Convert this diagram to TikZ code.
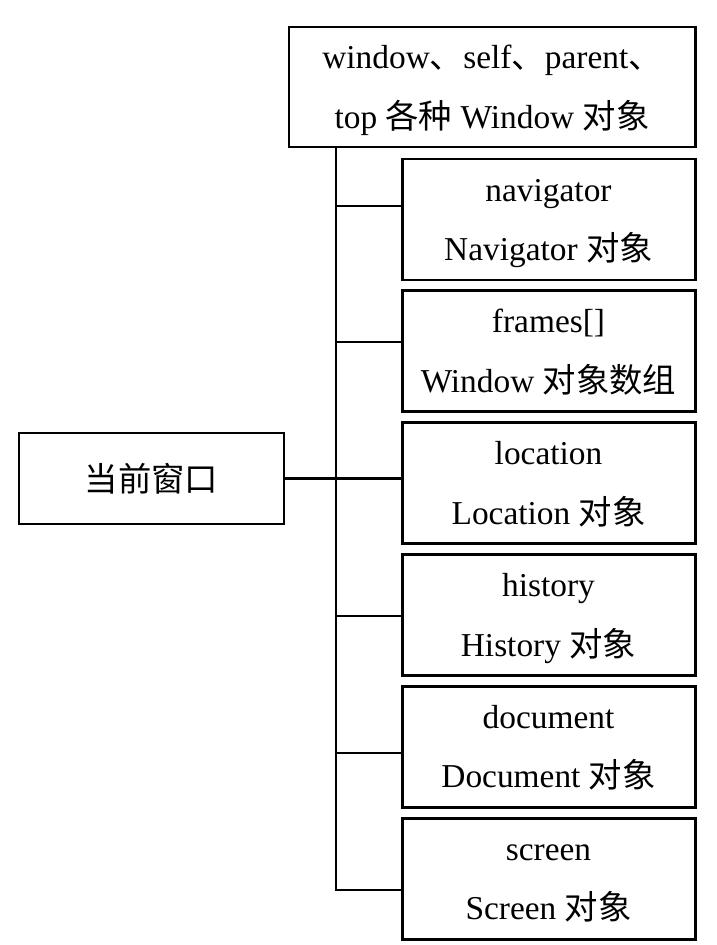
\documentclass[tikz,border=0pt]{standalone}
\usepackage{fontspec}
\setmainfont{Liberation Serif}
\newfontfamily\cjk{Noto Sans CJK SC}
\usetikzlibrary{positioning}

% two lines of a box, with struts so the baselines sit alike
\newcommand{\objtext}[2]{\rule{0pt}{18pt}#1\\ #2\rule[-5pt]{0pt}{5pt}}

\begin{document}
\begin{tikzpicture}[x=0.02cm,y=-0.02cm,
    every node/.style={font=\fontsize{19}{34}\selectfont,align=center,inner sep=0pt},
    objbox/.style={draw,line width=1.7pt,minimum width=293*0.02cm,minimum height=121*0.02cm},
    link/.style={line width=1.15pt}]

    \useasboundingbox (0,0) rectangle (716,945);

    % window objects on top
    \node[draw,line width=1.7pt,minimum width=406*0.02cm,minimum height=120*0.02cm]
        (win) at (492,87) {\objtext{window{\cjk 、}self{\cjk 、}parent{\cjk 、}}{top {\cjk 各种} Window {\cjk 对象}}};

    % current window on the left
    \node[draw,line width=1.7pt,minimum width=265*0.02cm,minimum height=91*0.02cm]
        (cur) at (151.5,478.5) {\cjk 当前窗口};

    % child objects
    \node[objbox] (nav) at (548.5,219.5) {\objtext{navigator}{Navigator {\cjk 对象}}};
    \node[objbox] (frm) at (548.5,351.3) {\objtext{frames[]}{Window {\cjk 对象数组}}};
    \node[objbox] (loc) at (548.5,483.1) {\objtext{location}{Location {\cjk 对象}}};
    \node[objbox] (his) at (548.5,614.9) {\objtext{history}{History {\cjk 对象}}};
    \node[objbox] (doc) at (548.5,746.7) {\objtext{document}{Document {\cjk 对象}}};
    \node[objbox] (scr) at (548.5,878.5) {\objtext{screen}{Screen {\cjk 对象}}};

    \coordinate (trunk) at (336,890);

    % connectors
    \draw[link] (win.south -| trunk) -- (trunk) -- (trunk -| scr.west);
    \draw[link] (trunk |- 0,206) -- (nav.west |- 0,206);
    \draw[link] (trunk |- 0,342) -- (frm.west |- 0,342);
    \draw[link] (cur.east) -- (cur.east -| loc.west);
    \draw[link] (trunk |- 0,616) -- (his.west |- 0,616);
    \draw[link] (trunk |- 0,753) -- (doc.west |- 0,753);
\end{tikzpicture}
\end{document}
